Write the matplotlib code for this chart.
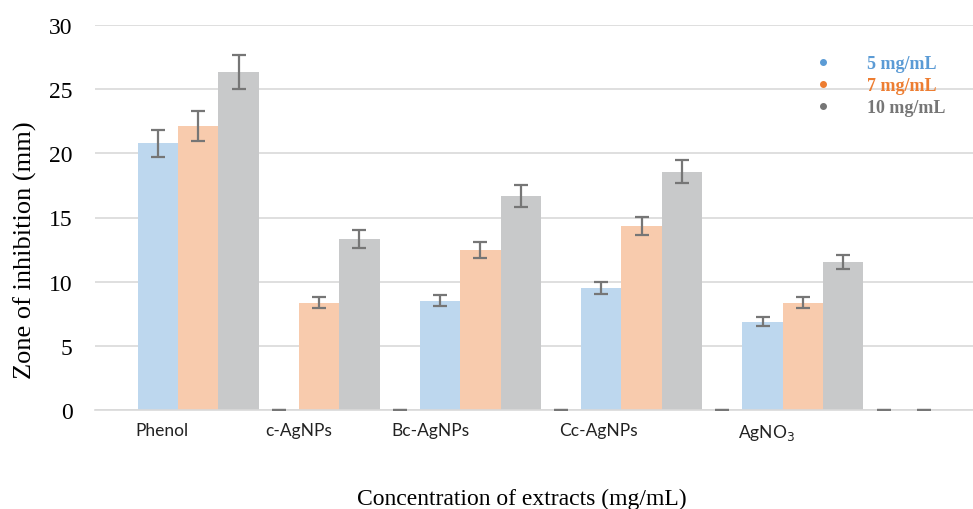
import numpy as np
import matplotlib.pyplot as plt
from matplotlib.lines import Line2D

categories = ['Phenol', 'c-AgNPs', 'Bc-AgNPs', 'Cc-AgNPs', 'AgNO$_3$']
series = ['5 mg/mL', '7 mg/mL', '10 mg/mL']
conc_5 = [20.8, 0.0, 8.5, 9.5, 6.86]
conc_7 = [22.13, 8.34, 12.47, 14.34, 8.34]
conc_10 = [26.34, 13.33, 16.68, 18.55, 11.53]
err_5 = [1.05, 0.0, 0.43, 0.47, 0.35]
err_7 = [1.15, 0.43, 0.62, 0.7, 0.43]
err_10 = [1.3, 0.67, 0.85, 0.9, 0.58]

bar_colors = ['#BDD7EE', '#F8CBAD', '#C8C9CA']
text_colors = ['#5B9BD5', '#ED7D31', '#767676']
err_color = '#767676'

# bars sit side by side with no gaps; some empty slots between groups
group_start = [0, 3, 7, 11, 15]
empty_slots = [6, 10, 14, 18, 19]
label_pos = [0.1, 3.5, 6.75, 10.94, 15.09]

fig = plt.figure(figsize=(9.73, 5.10), dpi=100)
ax = fig.add_axes([95 / 973, 99 / 510, 878 / 973, 385 / 510])

values = [conc_5, conc_7, conc_10]
errors = [err_5, err_7, err_10]
for s in range(3):
    x = np.array(group_start) + s
    ax.bar(x, values[s], width=1.0, color=bar_colors[s], zorder=2)
    ax.errorbar(x, values[s], yerr=errors[s], fmt='none', ecolor=err_color,
                elinewidth=1.6, capsize=4.7, capthick=1.6, zorder=3)
ax.errorbar(empty_slots, np.zeros(len(empty_slots)), yerr=0, fmt='none',
            ecolor=err_color, elinewidth=1.6, capsize=4.7, capthick=1.6, zorder=3)

ax.set_xlim(-1.56, 20.22)
ax.set_ylim(0, 30)
ax.set_yticks(np.arange(0, 31, 5))
ax.yaxis.grid(True, color='#D9D9D9', linewidth=1.2, zorder=0)
ax.set_axisbelow(True)
for sp in ['top', 'right', 'left']:
    ax.spines[sp].set_visible(False)
ax.spines['bottom'].set_color('#D9D9D9')
ax.spines['bottom'].set_linewidth(1.2)
ax.tick_params(axis='y', length=0, pad=16, labelsize=17)
for lab in ax.get_yticklabels():
    lab.set_family('Liberation Serif')
ax.set_xticks(label_pos, categories)
ax.tick_params(axis='x', length=0, pad=9, labelsize=12.5, labelcolor='#222222')
for lab in ax.get_xticklabels():
    lab.set_family('Lato')

fig.text(25 / 973, 0.51, 'Zone of inhibition (mm)', rotation=90, ha='center',
         va='center', fontsize=19, family='Liberation Serif')
fig.text(522 / 973, 0.02, 'Concentration of extracts (mg/mL)', ha='center',
         va='center', fontsize=17, family='Liberation Serif')

handles = [Line2D([], [], marker='o', ls='', color=c, markersize=4) for c in text_colors]
leg = ax.legend(handles, series, loc='upper left', frameon=False,
                bbox_to_anchor=(796 / 973, 463 / 510), bbox_transform=fig.transFigure,
                borderpad=0, handletextpad=1.45, labelspacing=0.28,
                labelcolor=text_colors,
                prop={'family': 'Liberation Serif', 'weight': 'bold', 'size': 13})

fig.savefig('out.png', dpi=100)
